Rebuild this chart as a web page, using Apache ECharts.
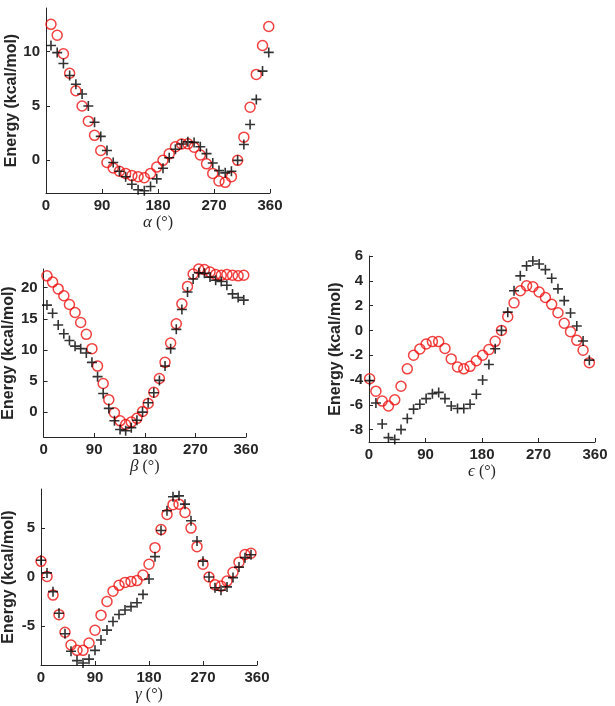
<!DOCTYPE html>
<html>
<head>
<meta charset="utf-8">
<script src="https://cdn.jsdelivr.net/npm/echarts@6/dist/echarts.min.js"></script>
<style>
html,body{margin:0;padding:0;background:#fff;}
#chart{width:615px;height:706px;}
</style>
</head>
<body>
<div id="chart"></div>
<script>
// ---- data (angles in degrees, energies in kcal/mol) ----
const xTicks = [0, 90, 180, 270, 360];

const alphaAngle = [8,18,28,38,48,58,68,78,88,98,108,118,128,138,148,158,168,178,188,198,208,218,228,238,248,258,268,278,288,298,308,318,328,338,348,358];
const alphaRed   = [12.5,11.5,9.8,8.0,6.4,5.0,3.6,2.3,0.9,-0.2,-0.7,-1.0,-1.2,-1.4,-1.5,-1.6,-1.2,-0.62,0,0.6,1.25,1.5,1.52,1.2,0.49,-0.32,-1.2,-1.9,-2.02,-1.5,0,2.13,4.88,7.9,10.55,12.3];
const alphaBlack = [10.55,9.9,8.9,7.8,7.0,6.1,5.0,3.5,2.2,0.9,-0.2,-1.0,-1.5,-2.2,-2.7,-2.8,-2.4,-1.7,-0.72,0.24,1.02,1.5,1.7,1.65,1.25,0.62,-0.24,-0.94,-1.15,-1.0,0,1.45,3.3,5.6,8.2,9.92];
const alphaTicks = [0, 5, 10];

const betaAngle = [6,16,26,36,46,56,66,76,86,96,106,116,126,136,146,156,166,176,186,196,206,216,226,236,246,256,266,276,286,296,306,316,326,336,346,356];
const betaRed   = [21.9,20.9,19.8,18.7,17.3,16.0,14.4,12.5,10.2,7.4,4.6,2.0,-0.1,-1.4,-2.0,-1.6,-1.0,0.1,1.4,3.2,5.4,8.0,11.1,14.2,17.4,20.2,22.2,23.0,22.9,22.5,22.1,22.0,22.1,22.0,21.9,22.0];
const betaBlack = [17.2,15.9,14.0,12.6,11.5,10.6,10.2,9.5,8.0,5.7,3.0,0.6,-1.4,-2.8,-3.0,-2.5,-1.3,0,1.5,3.1,5.1,7.4,10.2,13.3,16.5,19.3,21.4,22.4,22.3,21.7,21.2,21.0,20.4,19.0,18.4,18.0];
const betaTicks = [0, 5, 10, 15, 20];

const epsAngle = [1,11,21,31,41,51,61,71,81,91,101,111,121,131,141,151,161,171,181,191,201,211,221,231,241,251,261,271,281,291,301,311,321,331,341,351];
const epsRed   = [-3.9,-4.9,-5.7,-6.1,-5.6,-4.5,-3.1,-2.0,-1.5,-1.1,-0.9,-0.9,-1.45,-2.3,-2.95,-3.1,-2.9,-2.45,-2.0,-1.55,-0.88,0,1.1,2.22,3.2,3.6,3.52,3.1,2.65,2.1,1.42,0.58,-0.1,-0.8,-1.6,-2.6];
const epsBlack = [-4.05,-5.85,-7.55,-8.65,-8.8,-8.0,-7.1,-6.35,-5.95,-5.5,-5.1,-5.0,-5.5,-6.1,-6.3,-6.3,-5.95,-5.15,-4.0,-2.75,-1.48,0,1.47,3.2,4.4,5.2,5.6,5.35,4.9,4.2,3.35,2.4,1.4,0.35,-0.85,-2.4];
const epsTicks = [-8, -6, -4, -2, 0, 2, 4, 6];

const gammaAngle = [0,10,20,30,40,50,60,70,80,90,100,110,120,130,140,150,160,170,180,190,200,210,220,230,240,250,260,270,280,290,300,310,320,330,340,350];
const gammaRed   = [1.6,0.05,-1.85,-3.85,-5.65,-6.95,-7.5,-7.5,-6.75,-5.45,-3.9,-2.5,-1.45,-0.85,-0.55,-0.45,-0.37,0.2,1.3,3.0,4.85,6.4,7.4,7.45,6.6,5.0,3.1,1.3,0,-0.8,-0.93,-0.42,0.48,1.52,2.3,2.43];
const gammaBlack = [1.72,0.42,-1.5,-3.7,-5.8,-7.6,-8.55,-8.8,-8.4,-7.5,-6.45,-5.43,-4.55,-3.83,-3.38,-3.03,-2.63,-1.78,-0.2,2.08,4.75,6.78,8.2,8.3,7.45,5.75,3.68,1.62,0,-1.1,-1.36,-1.01,-0.06,1.01,1.98,2.28];
const gammaTicks = [-5, 0, 5];

// ---- chart build ----
const INK = '#262626';
const SANS = 'Liberation Sans, Arial, Helvetica, sans-serif';
const SERIF = 'Liberation Serif, DejaVu Serif, Times New Roman, serif';
const PLUS = 'path://M0,5L10,5M5,0L5,10';

const panels = [
  {grid:{left:46, top:8, width:224, height:185}, greek:'α', xs:alphaAngle, red:alphaRed, black:alphaBlack, yMin:-3, yMax:14, ticks:alphaTicks, yGap:25},
  {grid:{left:42, top:269, width:204, height:168}, greek:'β', xs:betaAngle, red:betaRed, black:betaBlack, yMin:-4, yMax:23, ticks:betaTicks, yGap:24},
  {grid:{left:369, top:256, width:226, height:186}, greek:'ϵ', xs:epsAngle, red:epsRed, black:epsBlack, yMin:-9, yMax:6, ticks:epsTicks, yGap:25},
  {grid:{left:41, top:489, width:216, height:176}, greek:'γ', xs:gammaAngle, red:gammaRed, black:gammaBlack, yMin:-9, yMax:9, ticks:gammaTicks, yGap:24}
];

const grids = [], xAxes = [], yAxes = [], series = [];
const labelStyle = {fontFamily:SANS, fontWeight:'bold', fontSize:15, color:INK};

panels.forEach((p, i) => {
  grids.push(Object.assign({containLabel:false}, p.grid));
  xAxes.push({
    type:'value', gridIndex:i, min:xTicks[0], max:xTicks[xTicks.length - 1], interval:90,
    axisLine:{show:true, onZero:false, lineStyle:{color:INK, width:1}},
    axisTick:{show:true, inside:true, length:4, lineStyle:{color:INK}},
    axisLabel:Object.assign({margin:5}, labelStyle),
    splitLine:{show:false},
    name:'{g|' + p.greek + '} (°)',
    nameLocation:'middle', nameGap:21,
    nameTextStyle:{fontFamily:SERIF, fontSize:16, color:INK,
      rich:{g:{fontFamily:SERIF, fontStyle:'italic', fontSize:17, color:INK}}}
  });
  yAxes.push({
    type:'value', gridIndex:i, min:p.yMin, max:p.yMax,
    axisLine:{show:true, onZero:false, lineStyle:{color:INK, width:1}},
    axisTick:{show:true, inside:true, length:4, lineStyle:{color:INK}, customValues:p.ticks},
    axisLabel:Object.assign({margin:6, customValues:p.ticks}, labelStyle),
    splitLine:{show:false},
    name:'Energy (kcal/mol)', nameLocation:'middle', nameGap:p.yGap, nameRotate:90,
    nameTextStyle:{fontFamily:SANS, fontWeight:'bold', fontSize:16, color:INK}
  });
  series.push({
    type:'scatter', xAxisIndex:i, yAxisIndex:i, clip:false, silent:true,
    symbol:'circle', symbolSize:10,
    itemStyle:{color:'rgba(0,0,0,0)', borderColor:'#ee1111', borderWidth:1.5},
    data:p.xs.map((x, j) => [x, p.red[j]])
  });
  series.push({
    type:'scatter', xAxisIndex:i, yAxisIndex:i, clip:false, silent:true,
    symbol:PLUS, symbolSize:10,
    itemStyle:{color:'rgba(0,0,0,0)', borderColor:'#000000', borderWidth:1.6},
    data:p.xs.map((x, j) => [x, p.black[j]])
  });
});

const chart = echarts.init(document.getElementById('chart'), null, {renderer:'canvas'});
chart.setOption({
  animation:false,
  backgroundColor:'#ffffff',
  grid:grids, xAxis:xAxes, yAxis:yAxes, series:series
});
</script>
</body>
</html>
